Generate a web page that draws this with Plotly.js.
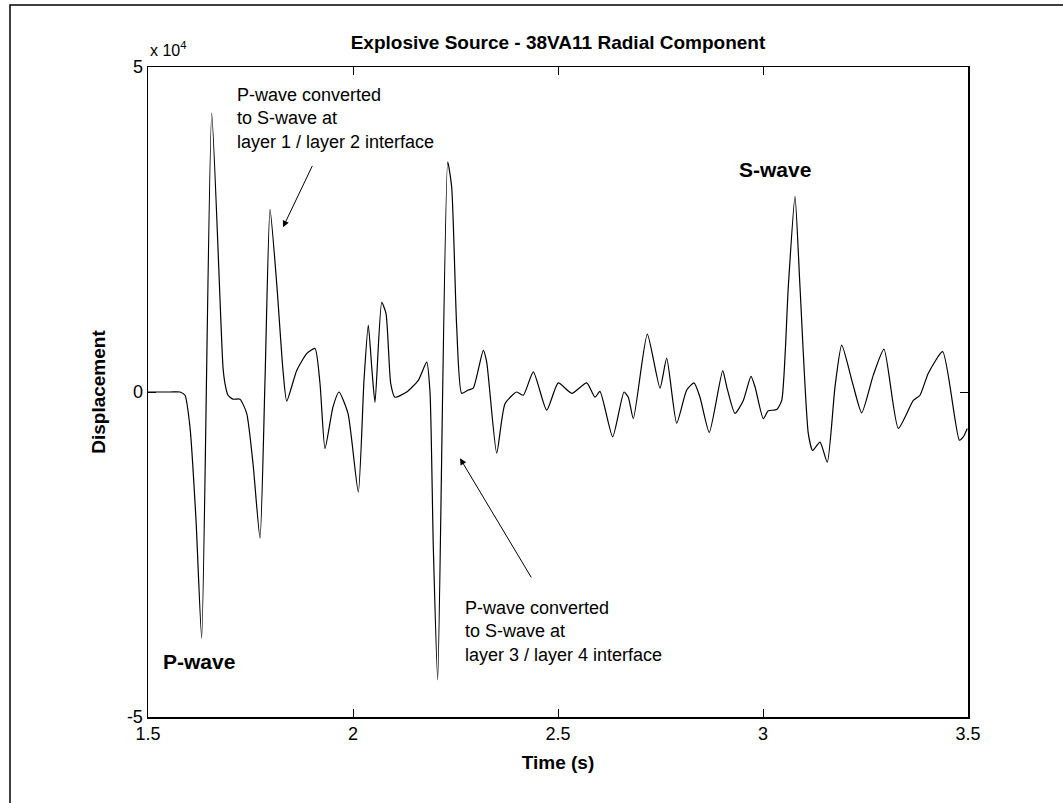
<!DOCTYPE html>
<html>
<head>
<meta charset="utf-8">
<script src="https://cdn.plot.ly/plotly-3.0.1.min.js"></script>
<style>html,body{margin:0;padding:0;background:#fff;}#chart{width:1063px;height:803px;}</style>
</head>
<body>
<div id="chart"></div>
<script>
// Time (s)
const timeS = [1.5, 1.5537, 1.578, 1.5902, 1.6024, 1.6171, 1.631, 1.6554, 1.6829, 1.6878,
  1.6951, 1.7073, 1.7244, 1.7407, 1.7561, 1.7732, 1.7854, 1.7976, 1.8139, 1.8293,
  1.8383, 1.8627, 1.8871, 1.9073, 1.9195, 1.9317, 1.9512, 1.9659, 1.9878, 2.0129,
  2.0268, 2.0373, 2.0463, 2.0537, 2.07, 2.0805, 2.092, 2.1024, 2.131, 2.1593,
  2.1798, 2.1878, 2.1959, 2.2066, 2.231, 2.2407, 2.2529, 2.2651, 2.2812, 2.2934,
  2.3178, 2.3261, 2.3505, 2.3707, 2.3993, 2.4154, 2.4398, 2.4724, 2.5007, 2.5334,
  2.57, 2.5902, 2.6024, 2.6334, 2.661, 2.6715, 2.6837, 2.7178, 2.7488, 2.7651,
  2.7895, 2.8139, 2.8317, 2.8463, 2.869, 2.9017, 2.9115, 2.9317, 2.952, 2.9707,
  2.9805, 3.0007, 3.0129, 3.0334, 3.0456, 3.0617, 3.078, 3.0902, 3.1105, 3.1212,
  3.139, 3.1568, 3.1756, 3.192, 3.2188, 3.2407, 3.269, 3.2951, 3.33, 3.3666,
  3.3829, 3.4032, 3.4383, 3.4788, 3.4885, 3.4983];
// Displacement (x 10^4)
const displacement = [0, 0, 0, -0.05, -0.54, -1.97, -3.79, 4.29, 0.38, 0.13,
  -0.05, -0.11, -0.11, -0.33, -1.1, -2.25, 0.18, 2.81, 1.67, 0.33,
  -0.14, 0.33, 0.59, 0.67, 0.13, -0.87, -0.23, 0.0, -0.33, -1.54,
  0.18, 1.03, 0.33, -0.16, 1.38, 1.21, 0.13, -0.08, 0.0, 0.18,
  0.46, 0.0, -2.39, -4.43, 3.54, 3.15, 1.0, -0.02, 0.03, 0.06,
  0.64, 0.46, -0.94, -0.18, 0.0, -0.05, 0.31, -0.28, 0.14, -0.02,
  0.14, -0.08, 0.01, -0.69, 0.0, -0.08, -0.41, 0.89, 0.06, 0.52,
  -0.48, 0.03, 0.14, -0.08, -0.62, 0.33, 0.08, -0.33, -0.13, 0.24,
  0.08, -0.41, -0.29, -0.27, -0.13, 1.62, 3.01, 1.62, -0.64, -0.9,
  -0.77, -1.08, 0.08, 0.72, 0.13, -0.32, 0.26, 0.66, -0.56, -0.13,
  -0.05, 0.29, 0.62, -0.74, -0.69, -0.56];
const xTickVals = [1.5, 2, 2.5, 3, 3.5];
const xTickText = ["1.5", "2", "2.5", "3", "3.5"];
const yTickVals = [-5, 0, 5];
const yTickText = ["-5", "0", "5"];

const FONT = 'Liberation Sans, Arial, Helvetica, sans-serif';
const trace = {
  x: timeS, y: displacement, type: 'scatter', mode: 'lines',
  line: {color: '#000', width: 1.2, shape: 'spline', smoothing: 0.55}, hoverinfo: 'x+y'
};
const layout = {
  width: 1063, height: 803,
  margin: {l: 148, r: 95, t: 67, b: 86, pad: 0},
  paper_bgcolor: '#fff', plot_bgcolor: '#fff',
  showlegend: false,
  font: {family: FONT, size: 18, color: '#000'},
  title: {text: '<b>Explosive Source - 38VA11 Radial Component</b>', font: {family: FONT, size: 19, color: '#000'},
    x: 0.5, xref: 'paper', xanchor: 'center', y: 1 - 42 / 803, yref: 'container', yanchor: 'middle'},
  xaxis: {range: [1.5, 3.5], tickvals: xTickVals, ticktext: xTickText, ticks: 'inside', ticklen: 8,
    tickcolor: '#000', tickwidth: 1, showline: true, linecolor: '#000', linewidth: 1.5, mirror: 'ticks',
    showgrid: false, zeroline: false, tickfont: {family: FONT, size: 18, color: '#000'},
    title: {text: '<b>Time (s)</b>', font: {family: FONT, size: 19, color: '#000'}, standoff: 12}},
  yaxis: {range: [-5, 5], tickvals: yTickVals, ticktext: yTickText, ticks: 'inside', ticklen: 8,
    tickcolor: '#000', tickwidth: 1, showline: true, linecolor: '#000', linewidth: 1.5, mirror: 'ticks',
    showgrid: false, zeroline: false, tickfont: {family: FONT, size: 18, color: '#000'},
    title: {text: '<b>Displacement</b>', font: {family: FONT, size: 19, color: '#000'}, standoff: 16}},
  annotations: [
    {text: 'x 10<sup>4</sup>', xref: 'paper', yref: 'paper', x: 0, y: (717 - 49) / 650, xanchor: 'left', yanchor: 'middle',
      showarrow: false, font: {family: FONT, size: 16, color: '#000'}},
    {text: 'P-wave converted<br>to S-wave at<br>layer 1 / layer 2 interface', xref: 'x', yref: 'y',
      x: 1.8293, y: 2.534, axref: 'pixel', ayref: 'pixel', ax: 52, ay: -109,
      xanchor: 'center', yanchor: 'middle', align: 'left',
      showarrow: true, arrowhead: 2, arrowsize: 1.3, arrowwidth: 1, arrowcolor: '#000', startstandoff: 14,
      font: {family: FONT, size: 18, color: '#000'}},
    {text: 'P-wave converted<br>to S-wave at<br>layer 3 / layer 4 interface', xref: 'x', yref: 'y',
      x: 2.261, y: -1.02, axref: 'pixel', ayref: 'pixel', ax: 103.5, ay: 173,
      xanchor: 'center', yanchor: 'middle', align: 'left',
      showarrow: true, arrowhead: 2, arrowsize: 1.3, arrowwidth: 1, arrowcolor: '#000', startstandoff: 22,
      font: {family: FONT, size: 18, color: '#000'}},
    {text: '<b>S-wave</b>', xref: 'paper', yref: 'paper', x: (775 - 148) / 820, y: (717 - 169) / 650,
      xanchor: 'center', yanchor: 'middle', showarrow: false, font: {family: FONT, size: 21, color: '#000'}},
    {text: '<b>P-wave</b>', xref: 'paper', yref: 'paper', x: (199 - 148) / 820, y: (717 - 661) / 650,
      xanchor: 'center', yanchor: 'middle', showarrow: false, font: {family: FONT, size: 21, color: '#000'}}
  ],
  shapes: [
    {type: 'rect', xref: 'paper', yref: 'paper', x0: (10 - 148) / 820, x1: (1080 - 148) / 820,
      y0: (717 - 820) / 650, y1: (717 - 5) / 650, line: {color: '#000', width: 1.5}, fillcolor: 'rgba(0,0,0,0)', layer: 'below'}
  ]
};
Plotly.newPlot('chart', [trace], layout, {displayModeBar: false, staticPlot: true});
</script>
</body>
</html>
